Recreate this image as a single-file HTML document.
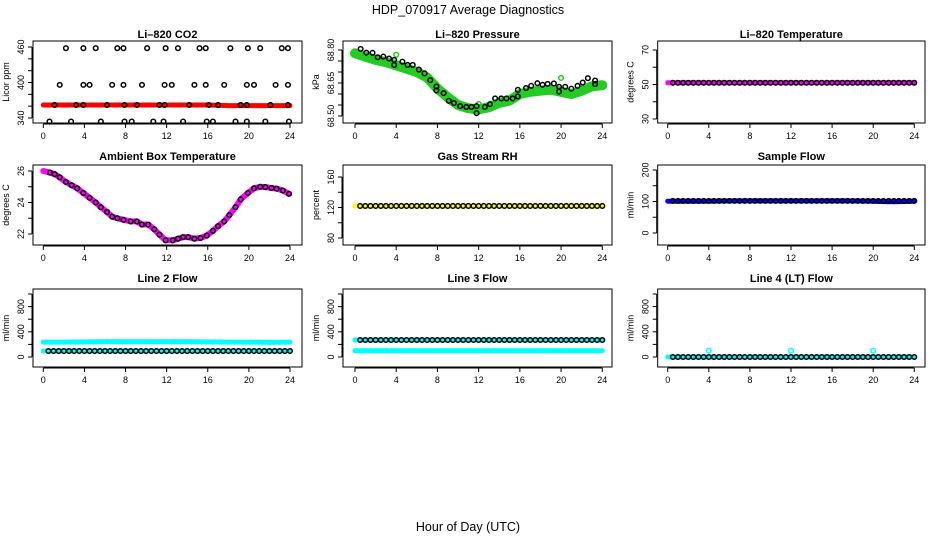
<!DOCTYPE html>
<html><head><meta charset="utf-8"><style>
body{margin:0;background:#fff;}
svg{display:block;font-family:"Liberation Sans",sans-serif;}
</style></head><body>
<svg id="chart" width="936" height="540" viewBox="0 0 936 540">
<text x="468" y="14" text-anchor="middle" font-size="12.5">HDP_070917  Average Diagnostics</text>
<text x="468" y="531" text-anchor="middle" font-size="12.5">Hour of Day (UTC)</text>
</svg>
<script>
// ---- data ----
const xTicks = [0,4,8,12,16,20,24];
const blackT = [0.5,1,1.5,2,2.5,3,3.5,4,4.5,5,5.5,6,6.5,7,7.5,8,8.5,9,9.5,10,10.5,11,11.5,12,12.5,13,13.5,14,14.5,15,15.5,16,16.5,17,17.5,18,18.5,19,19.5,20,20.5,21,21.5,22,22.5,23,23.5,24];
const bandT = [0,2,4,6,8,10,12,14,16,18,20,22,24];
// CO2
const co2HighT = [2.2,3.9,5.1,7.2,7.8,10.1,11.9,13.1,15.2,15.8,18.2,19.9,21.1,23.2,23.8];
const co2HighV = [458,458,458,458,458,458,458,458,458,458,458,458,458,458,458];
const co2MidT = [1.6,3.9,4.5,6.7,7.8,9.6,11.8,12.5,14.7,15.8,17.6,19.8,20.5,22.6,23.8];
const co2MidV = [396,396,396,396,396,396,396,396,396,396,396,396,396,396,396];
const co2LowT = [1.1,3.2,3.9,6.2,7.9,9.1,11.3,11.8,14.2,16.1,17.0,19.2,19.8,22.1,23.8];
const co2LowV = [362,362,362,362,362,362,362,362,362,362,362,362,362,362,362];
const co2BotT = [0.6,2.7,5.6,7.9,8.6,10.7,11.7,13.6,15.9,16.5,18.7,19.8,21.6,23.9];
const co2BotV = [334,334,334,334,334,334,334,334,334,334,334,334,334,334];
const co2Band = [362,362,362,362,362,362,362,362,362,361,361,361,361];
// Pressure
const presT = [0.55,1.1,1.7,2.2,2.75,3.3,3.8,3.8,4.6,5.1,5.6,6.2,6.75,7.3,7.9,7.9,8.6,9.1,9.6,10.2,10.8,11.3,11.8,11.8,12.6,13.1,13.6,14.2,14.7,15.3,15.8,15.8,16.6,17.1,17.7,18.2,18.7,19.3,19.8,19.8,20.4,21.0,21.6,22.1,22.6,23.3,23.3];
const presV = [68.805,68.788,68.787,68.767,68.770,68.761,68.755,68.732,68.747,68.732,68.732,68.711,68.694,68.663,68.634,68.616,68.604,68.569,68.559,68.545,68.541,68.541,68.545,68.513,68.541,68.554,68.580,68.580,68.580,68.580,68.619,68.589,68.627,68.637,68.649,68.642,68.646,68.648,68.633,68.611,68.633,68.624,68.637,68.652,68.672,68.661,68.645];
const presGreenT = [0,1,2,3,4,5,6,7,8,9,10,11,12,13,14,15,16,17,18,19,20,21,22,23,24];
const presGreenV = [68.785,68.77,68.755,68.745,68.73,68.715,68.70,68.675,68.625,68.585,68.55,68.535,68.53,68.54,68.56,68.57,68.60,68.61,68.615,68.62,68.61,68.60,68.615,68.635,68.64];
const presOutT = [4.0,12.0,20.0];
const presOutV = [68.778,68.555,68.673];
// Li-820 temperature
const tempBlack = Array(48).fill(51);
const tempBand = [51,51,51,51,51,51,51,51,51,51,51,51,51];
// Ambient
const ambT = [0,0.65,1.1,1.6,2.2,2.75,3.3,3.9,4.5,5.1,5.6,6.2,6.7,7.2,7.8,8.5,9.1,9.6,10.2,10.8,11.3,11.9,12.6,13.1,13.6,14.1,14.7,15.3,15.9,16.5,17.0,17.6,18.1,18.7,19.2,19.9,20.5,21.1,21.6,22.2,22.7,23.3,23.9];
const ambV = [26.0,25.9,25.8,25.6,25.3,25.1,24.9,24.6,24.3,24.0,23.7,23.4,23.1,23.0,22.9,22.8,22.8,22.6,22.6,22.3,21.96,21.6,21.6,21.7,21.8,21.8,21.7,21.75,21.9,22.2,22.5,22.8,23.2,23.7,24.2,24.6,24.9,25.0,24.98,24.92,24.88,24.76,24.55];
// RH
const rhBlack = Array(48).fill(122);
const rhBand = [122,122,122,122,122,122,122,122,122,122,122,122,122];
// Sample flow
const sfBlack = Array(48).fill(102);
const sfBand = [101,101,101,102,102,102,102,102,102,102,101,99,101];
// Line 2
const l2Black = Array(48).fill(95);
const l2BandHi = [237,237,240,245,245,245,245,245,240,237,237,232,237];
const l2BandLo = [95,95,95,95,95,95,95,95,95,95,95,95,95];
// Line 3
const l3Black = Array(48).fill(270);
const l3BandHi = [270,270,270,270,270,270,270,270,270,270,270,270,270];
const l3BandLo = [100,100,100,100,100,100,100,100,100,100,100,100,100];
// Line 4
const l4Black = Array(48).fill(0);
const l4Band = [0,0,0,0,0,0,0,0,0,0,0,0,0];
const l4OutT = [4,12,20];
const l4OutV = [100,100,100];

// ---- drawing ----
const svg = document.getElementById('chart');
const NS = 'http://www.w3.org/2000/svg';
function mk(tag, attrs, parent){const e=document.createElementNS(NS,tag);for(const k in attrs)e.setAttribute(k,attrs[k]);(parent||svg).appendChild(e);return e;}

const cols = [{bl:33,br:302,x0:43.3,x24:290},{bl:343,br:612,x0:355,x24:602.3},{bl:657.7,br:925,x0:667.7,x24:914.3}];
const rows = [{top:41,bot:123},{top:165,bot:245},{top:289,bot:367}];

function panel(ci, ri, title, ylab, yA, yB, ticks, labels, name){
  const c=cols[ci], r=rows[ri];
  const g=mk('g',{});
  
  
  const X=t=>c.x0+(c.x24-c.x0)*t/24;
  const Y=v=>yA[1]+(yB[1]-yA[1])*(v-yA[0])/(yB[0]-yA[0]);
  const box=mk('rect',{x:c.bl,y:r.top,width:c.br-c.bl,height:r.bot-r.top,fill:'none',stroke:'#000','stroke-width':1},g);
  
  
  const tt=mk('text',{x:(c.bl+c.br)/2,y:[38,160,282][ri],'text-anchor':'middle','font-size':11,'font-weight':'bold'},g);
  tt.textContent=title;
  
  
  const xa=mk('g',{},g);
  
  
  mk('line',{x1:X(0),x2:X(24),y1:r.bot+1,y2:r.bot+1,stroke:'#000'},xa);
  xTicks.forEach(t=>{
    mk('line',{x1:X(t),x2:X(t),y1:r.bot+1,y2:r.bot+5,stroke:'#000'},xa);
    const l=mk('text',{x:X(t),y:r.bot+16,'text-anchor':'middle','font-size':9},xa);
    l.textContent=t;
    
    
  });
  const ya=mk('g',{},g);
  
  
  const ax=c.bl-1;
  mk('line',{x1:ax,x2:ax,y1:Y(ticks[0]),y2:Y(ticks[ticks.length-1]),stroke:'#000'},ya);
  ticks.forEach(v=>{
    mk('line',{x1:ax,x2:ax-4,y1:Y(v),y2:Y(v),stroke:'#000'},ya);
  });
  labels.forEach(v=>{
    const l=mk('text',{x:0,y:0,'text-anchor':'middle','font-size':9,transform:`translate(${ax-8},${Y(v)}) rotate(-90)`},ya);
    l.textContent=v;
    
    
  });
  const yl=mk('text',{x:0,y:0,'text-anchor':'middle','font-size':9,transform:`translate(${c.bl-24},${(r.top+r.bot)/2}) rotate(-90)`},g);
  yl.textContent=ylab;
  
  
  return {g,X,Y};
}
function band(p, ts, vs, color, w, name){
  const d=ts.map((t,i)=>(i?'L':'M')+p.X(t).toFixed(1)+','+p.Y(vs[i]).toFixed(1)).join('');
  const e=mk('path',{d,fill:'none',stroke:color,'stroke-width':w,'stroke-linecap':'round','stroke-linejoin':'round'},p.g);
  
  
}
function pts(p, ts, vs, color, name){
  const gg=mk('g',{},p.g);
  
  
  ts.forEach((t,i)=>{
    const e=mk('circle',{cx:p.X(t),cy:p.Y(vs[i]),r:2.3,fill:'none',stroke:color,'stroke-width':1.5},gg);
    
    
  });
}

let p;
p=panel(0,0,'Li\u2013820 CO2','Licor ppm',[340,118],[460,47],[340,360,380,400,420,440,460],[340,400,460],'panel-co2');
band(p,bandT,co2Band,'#ff0000',5,'co2-band');
pts(p,co2HighT,co2HighV,'#000','co2-points-high');
pts(p,co2MidT,co2MidV,'#000','co2-points-mid');
pts(p,co2LowT,co2LowV,'#000','co2-points-low');
pts(p,co2BotT,co2BotV,'#000','co2-points-bottom');

p=panel(1,0,'Li\u2013820 Pressure','kPa',[68.50,116],[68.80,50],[68.50,68.55,68.60,68.65,68.70,68.75,68.80],['68.50','68.65','68.80'],'panel-pressure');
band(p,presGreenT,presGreenV,'#22cc22',10,'pressure-band');
pts(p,presOutT,presOutV,'#22cc22','pressure-outliers');
pts(p,presT,presV,'#000','pressure-points');

p=panel(2,0,'Li\u2013820 Temperature','degrees C',[30,119],[70,50],[30,40,50,60,70],[30,50,70],'panel-li820-temp');
band(p,bandT,tempBand,'#ff00ff',5,'temp-band');
pts(p,blackT,tempBlack,'#000','temp-points');

p=panel(0,1,'Ambient Box Temperature','degrees C',[22,234],[26,171],[22,23,24,25,26],[22,24,26],'panel-ambient-temp');
band(p,ambT,ambV,'#ff00ff',6,'ambient-band');
pts(p,ambT.slice(1),ambV.slice(1),'#000','ambient-points');

p=panel(1,1,'Gas Stream RH','percent',[80,238],[160,177],[80,100,120,140,160],[80,120,160],'panel-rh');
band(p,bandT,rhBand,'#ffff00',5,'rh-band');
pts(p,blackT,rhBlack,'#000','rh-points');

p=panel(2,1,'Sample Flow','ml/min',[0,233],[200,170],[0,50,100,150,200],[0,100,200],'panel-sample-flow');
band(p,bandT,sfBand,'#0000ff',5,'sample-flow-band');
pts(p,blackT,sfBlack,'#000','sample-flow-points');

const flowTicks=[0,200,400,600,800,1000];
p=panel(0,2,'Line 2 Flow','ml/min',[0,357],[1000,294],flowTicks,[0,400,800],'panel-line2-flow');
band(p,bandT,l2BandHi,'#00ffff',5,'line2-band-high');
band(p,bandT,l2BandLo,'#00ffff',5,'line2-band-low');
pts(p,blackT,l2Black,'#000','line2-points');

p=panel(1,2,'Line 3 Flow','ml/min',[0,357],[1000,294],flowTicks,[0,400,800],'panel-line3-flow');
band(p,bandT,l3BandHi,'#00ffff',5,'line3-band-high');
band(p,bandT,l3BandLo,'#00ffff',5,'line3-band-low');
pts(p,blackT,l3Black,'#000','line3-points');

p=panel(2,2,'Line 4 (LT) Flow','ml/min',[0,357],[1000,294],flowTicks,[0,400,800],'panel-line4-flow');
band(p,bandT,l4Band,'#00ffff',5,'line4-band');
pts(p,l4OutT,l4OutV,'#00ffff','line4-outliers');
pts(p,blackT,l4Black,'#000','line4-points');
</script>
</body></html>
